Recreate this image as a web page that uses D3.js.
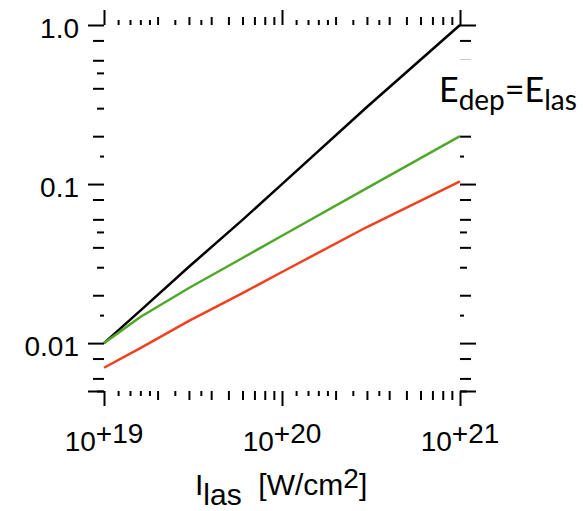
<!DOCTYPE html>
<html>
<head>
<meta charset="utf-8">
<script src="https://cdn.jsdelivr.net/npm/d3@7"></script>
<style>
  html, body { margin: 0; padding: 0; background: #fff; }
  svg { display: block; }
  .tick line { stroke: #000; stroke-width: 2; }
</style>
</head>
<body>
<svg id="chart" width="583" height="511"></svg>
<script>
// Laser intensity (W/cm^2)
const intensity = [1e19, 1.6e19, 3e19, 6e19, 1e20, 3e20, 1e21];

// Deposited energy fraction for each case
const energyTotal = [0.0100, 0.0160, 0.0302, 0.0595, 0.100, 0.305, 1.00];
const energyGreen = [0.0100, 0.0146, 0.0222, 0.0343, 0.0473, 0.0942, 0.200];
const energyRed   = [0.0070, 0.0093, 0.0138, 0.0206, 0.0280, 0.0537, 0.104];

// Axis ticks
const xMajor = [1e19, 1e20, 1e21];
const xMajorExp = ["+19", "+20", "+21"];
const xMinorMantissa = [1.2, 1.4, 1.6, 1.8, 2, 2.5, 3, 3.5, 4, 5, 6, 7, 8, 9];
const yMajor = [0.01, 0.1, 1.0];
const yMajorLabels = ["0.01", "0.1", "1.0"];
const yMinorMantissa = [1.5, 2, 3, 4, 5, 6, 8];

const series = [
  { values: energyTotal, color: "#000000" },
  { values: energyGreen, color: "#4ea82a" },
  { values: energyRed,   color: "#f0411d" }
];

const svg = d3.select("#chart");
const plotLeft = 104, plotRight = 460, plotTop = 25, plotBottom = 391;

const x = d3.scaleLog().domain([1e19, 1e21]).range([plotLeft, plotRight]);
const y = d3.scaleLog().domain([0.005, 1]).range([plotBottom, plotTop]);

// minor tick values built from mantissas per decade
const xMinor = [];
[1e19, 1e20].forEach(d => xMinorMantissa.forEach(m => xMinor.push(m * d)));
const yMinor = [];
[0.001, 0.01, 0.1].forEach(d => yMinorMantissa.forEach(m => {
  const v = m * d;
  if (v >= 0.005 && v < 1) yMinor.push(v);
}));

const mantissa = v => +(v / Math.pow(10, Math.floor(Math.log10(v) + 1e-9))).toFixed(3);
const isInt = v => Number.isInteger(mantissa(v));
const yLong = v => [2, 4, 6, 8].includes(mantissa(v));
const yTiny = v => mantissa(v) === 1.5;

function tickGroup(axisFn, scale, values, size, tx, ty) {
  const g = svg.append("g")
    .attr("transform", `translate(${tx},${ty})`)
    .call(axisFn(scale).tickValues(values).tickSize(size).tickSizeOuter(0).tickFormat(""));
  g.select(".domain").remove();
  return g;
}

const xTall = xMinor.filter(isInt);
const xShort = xMinor.filter(v => !isInt(v));
const yL = yMinor.filter(yLong);
const yT = yMinor.filter(yTiny);
const yS = yMinor.filter(v => !yLong(v) && !yTiny(v));

// bottom ticks
tickGroup(d3.axisBottom, x, xTall, 9, 0, plotBottom);
tickGroup(d3.axisBottom, x, xShort, 5, 0, plotBottom);
tickGroup(d3.axisBottom, x, xMajor, 15, 0, plotBottom);
// top ticks
tickGroup(d3.axisTop, x, xTall, 8, 0, plotTop);
tickGroup(d3.axisTop, x, xShort, 5, 0, plotTop);
tickGroup(d3.axisTop, x, xMajor, 15, 0, plotTop);
// left ticks
tickGroup(d3.axisLeft, y, yL, 11, plotLeft, 0);
tickGroup(d3.axisLeft, y, yS, 7, plotLeft, 0);
tickGroup(d3.axisLeft, y, yT, 4, plotLeft, 0);
tickGroup(d3.axisLeft, y, [0.005].concat(yMajor), 16, plotLeft, 0);
// right ticks
tickGroup(d3.axisRight, y, yL, 11, plotRight, 0);
tickGroup(d3.axisRight, y, yS, 7, plotRight, 0);
tickGroup(d3.axisRight, y, yT, 4, plotRight, 0);
tickGroup(d3.axisRight, y, [0.005].concat(yMajor), 16, plotRight, 0);

// y tick labels
svg.append("g").selectAll("text")
  .data(yMajor)
  .join("text")
  .attr("x", 79)
  .attr("y", d => y(d) + 13)
  .attr("text-anchor", "end")
  .attr("font-family", "'Liberation Sans', Arial, sans-serif")
  .attr("font-size", 28)
  .attr("fill", "#000")
  .text((d, i) => yMajorLabels[i]);

// x tick labels: 10 with raised exponent
const xl = svg.append("g").selectAll("text")
  .data(xMajor)
  .join("text")
  .attr("x", d => x(d))
  .attr("y", 451)
  .attr("text-anchor", "middle")
  .attr("font-family", "'Liberation Sans', Arial, sans-serif")
  .attr("font-size", 28)
  .attr("fill", "#000");
xl.append("tspan").text("10");
xl.append("tspan").attr("dy", -8).text((d, i) => xMajorExp[i]);

// x axis title
const xt = svg.append("text")
  .attr("x", 195)
  .attr("y", 495)
  .attr("font-family", "'Liberation Sans', Arial, sans-serif")
  .attr("font-size", 30)
  .attr("fill", "#000");
xt.append("tspan").text("I");
xt.append("tspan").attr("dy", 10).text("las");
xt.append("tspan").attr("dy", -10).text("\u00a0\u00a0[W/cm");
xt.append("tspan").attr("dy", -7).attr("font-size", 28).text("2");
xt.append("tspan").attr("dy", 7).text("]");

// curves
const line = d3.line()
  .x((d, i) => x(intensity[i]))
  .y(d => y(d));

svg.append("g").selectAll("path")
  .data(series)
  .join("path")
  .attr("d", s => line(s.values))
  .attr("fill", "none")
  .attr("stroke", s => s.color)
  .attr("stroke-width", 2.5)
  .attr("stroke-linejoin", "round");

// annotation on a white box that covers the right-hand ticks beneath it
svg.append("rect")
  .attr("x", 437).attr("y", 60)
  .attr("width", 146).attr("height", 62)
  .attr("fill", "#fff");
const ann = svg.append("text")
  .attr("x", 439)
  .attr("y", 102)
  .attr("font-family", "Lato, 'Open Sans', sans-serif")
  .attr("font-size", 34)
  .attr("fill", "#000");
ann.append("tspan").text("E");
ann.append("tspan").attr("dy", 8).attr("font-size", 28).text("dep");
ann.append("tspan").attr("dy", -8).text("=E");
ann.append("tspan").attr("dy", 8).attr("font-size", 28).text("las");
</script>
</body>
</html>
